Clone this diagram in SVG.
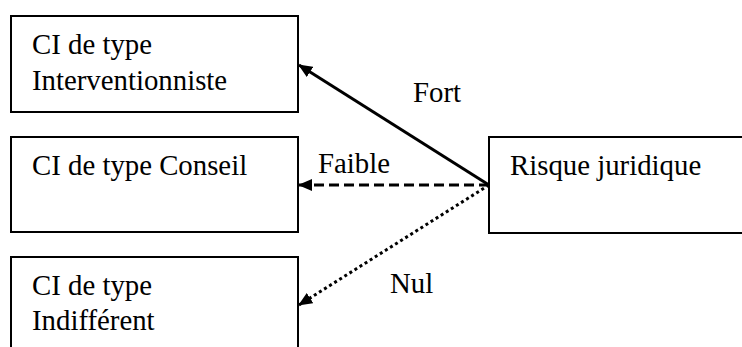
<svg xmlns="http://www.w3.org/2000/svg" width="742" height="347" viewBox="0 0 742 347">
<defs>
<style>
.box{fill:#fff;stroke:#000;stroke-width:2}
.t{font-family:"Liberation Serif","Times New Roman",serif;font-size:28.8px;fill:#000}
.c{stroke:#000;stroke-width:3;fill:none}
</style>
<marker id="ah" viewBox="0 0 14 12" refX="13" refY="6" markerWidth="14" markerHeight="12" markerUnits="userSpaceOnUse" orient="auto">
<path d="M0,0 L14,6 L0,12 Z" fill="#000"/>
</marker>
</defs>
<rect width="742" height="347" fill="#fff"/>
<g id="n1"><rect class="box" x="11" y="16" width="287" height="96"/><text class="t" x="32" y="54">CI de type</text><text class="t" x="32" y="90">Interventionniste</text></g>
<g id="n2"><rect class="box" x="11" y="137" width="287" height="95"/><text class="t" x="32" y="175">CI de type Conseil</text></g>
<g id="n3"><rect class="box" x="11" y="257" width="287" height="100"/><text class="t" x="32" y="295">CI de type</text><text class="t" x="32" y="330">Indifférent</text></g>
<g id="n4"><rect class="box" x="489" y="137" width="260" height="96"/><text class="t" x="510" y="175">Risque juridique</text></g>
<g id="connectors">
<line class="c" x1="489" y1="185" x2="299" y2="65" marker-end="url(#ah)"/>
<line class="c" x1="489" y1="185" x2="299" y2="185" stroke-dasharray="10,5" marker-end="url(#ah)"/>
<line class="c" x1="489" y1="185" x2="299" y2="305" stroke-dasharray="3,3" marker-end="url(#ah)"/>
<text class="t" x="413" y="102">Fort</text>
<text class="t" x="318" y="173">Faible</text>
<text class="t" x="390" y="293">Nul</text>
</g>
</svg>
